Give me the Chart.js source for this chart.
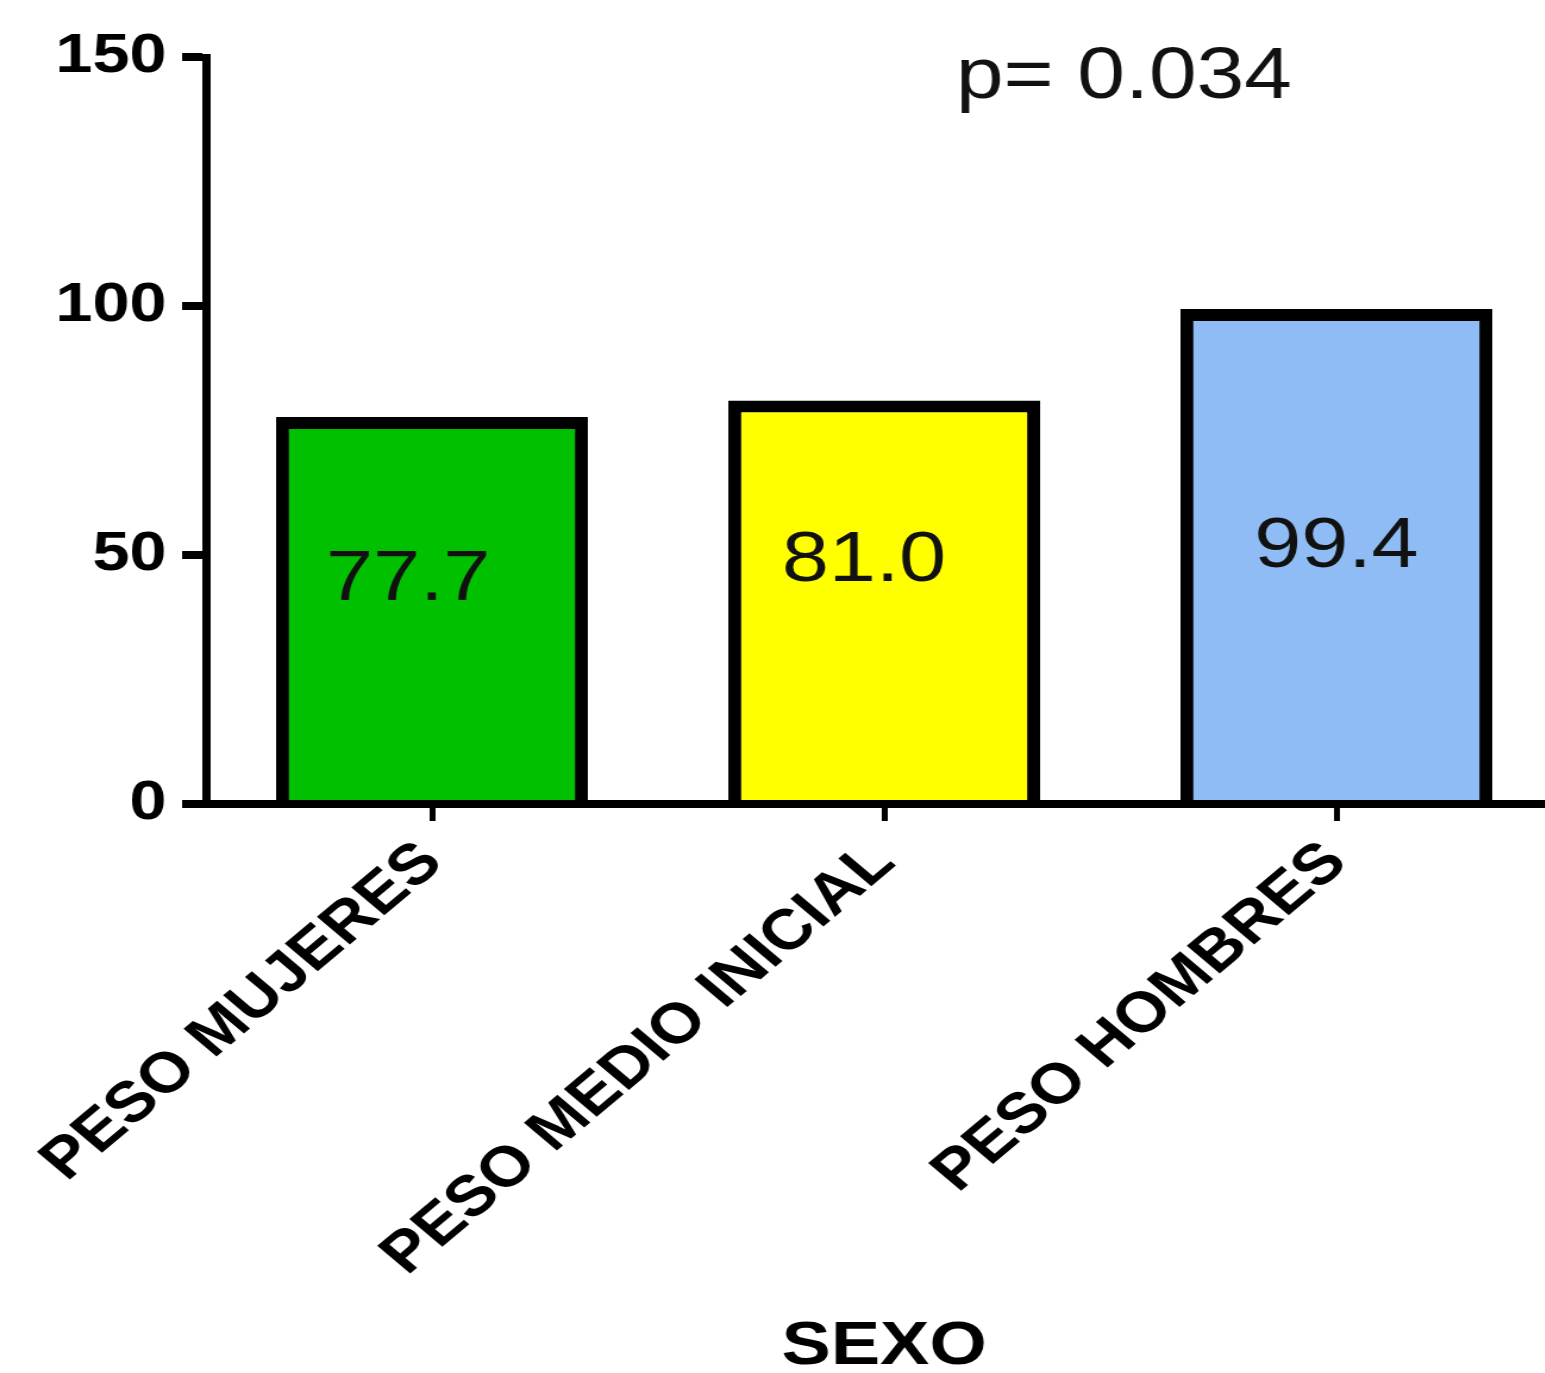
<!DOCTYPE html>
<html lang="es">
<head>
<meta charset="UTF-8">
<title>Peso por sexo</title>
<script src="https://cdn.jsdelivr.net/npm/chart.js@4.4.1/dist/chart.umd.min.js"></script>
<style>
  html, body { margin: 0; padding: 0; background: #fff; overflow: hidden; }
  #wrap { width: 1545px; height: 1373px; overflow: hidden; }
  /* the source figure is stretched sideways, so the canvas gets the same stretch */
  #chart { transform: scaleX(1.19); transform-origin: 0 0; }
</style>
</head>
<body>
<div id="wrap"><canvas id="chart" width="1313" height="1373"></canvas></div>
<script>
  const categories = ['PESO MUJERES', 'PESO MEDIO INICIAL', 'PESO HOMBRES'];
  const weights = [77.7, 81.0, 99.4];
  const yTicks = [0, 50, 100, 150];
  const pValue = 'p= 0.034';
  const axisTitle = 'SEXO';

  const FONT = '"Liberation Sans", Arial, Helvetica, sans-serif';

  // value text inside each bar + the p value note
  const barText = {
    id: 'barText',
    afterDatasetsDraw(chart, args, opts) {
      const { ctx, scales: { x, y } } = chart;
      const meta = chart.getDatasetMeta(0);
      ctx.save();
      ctx.fillStyle = '#111';
      ctx.textAlign = 'center';
      ctx.textBaseline = 'middle';
      ctx.font = '71px ' + FONT;
      meta.data.forEach((bar, i) => {
        ctx.fillText(weights[i].toFixed(1), bar.x + opts.shift[i], y.getPixelForValue(opts.at[i]));
      });
      ctx.font = '72px ' + FONT;
      ctx.fillText(pValue, x.getPixelForValue(opts.pAt[0]), y.getPixelForValue(opts.pAt[1]));
      ctx.restore();
    }
  };

  const ctx = document.getElementById('chart').getContext('2d');
  const chart = new Chart(ctx, {
    type: 'bar',
    data: {
      labels: categories,
      datasets: [{
        data: weights,
        backgroundColor: ['#00c000', '#ffff00', '#8fbcf5'],
        borderColor: '#000',
        borderWidth: { top: 12, left: 11, right: 11, bottom: 0 },
        borderSkipped: 'start',
        categoryPercentage: 1,
        barPercentage: 0.69
      }]
    },
    options: {
      responsive: false,
      animation: false,
      layout: { padding: { top: 57, left: 0, right: 0, bottom: 0 } },
      plugins: {
        legend: { display: false },
        tooltip: { enabled: false },
        barText: { shift: [-20, -17, 0], at: [44.8, 48.7, 51.5], pAt: [1.53, 145.8] }
      },
      scales: {
        x: {
          offset: true,
          border: { display: true, color: '#000', width: 8 },
          grid: { display: true, offset: false, drawOnChartArea: false, drawTicks: true, tickLength: 17, lineWidth: 5, color: '#000' },
          ticks: {
            color: '#000', autoSkip: false, maxRotation: 45, minRotation: 45, padding: 8,
            font: { family: FONT, size: 57, weight: 'bold' }
          },
          title: {
            display: true, text: axisTitle, color: '#000', padding: { top: 0, bottom: 0 },
            font: { family: FONT, size: 62, weight: 'bold', lineHeight: 0.85 }
          },
          afterFit(scale) { scale.height = 569; }
        },
        y: {
          min: 0,
          max: 150,
          border: { display: true, color: '#000', width: 7 },
          grid: { drawOnChartArea: false, drawTicks: true, tickLength: 20, lineWidth: 8, color: '#000' },
          ticks: {
            color: '#000', padding: 13,
            font: { family: FONT, size: 56, weight: 'bold' }
          },
          afterBuildTicks(scale) { scale.ticks = yTicks.map(v => ({ value: v })); },
          afterFit(scale) { scale.width = 173; }
        }
      }
    },
    plugins: [barText]
  });
</script>
</body>
</html>
